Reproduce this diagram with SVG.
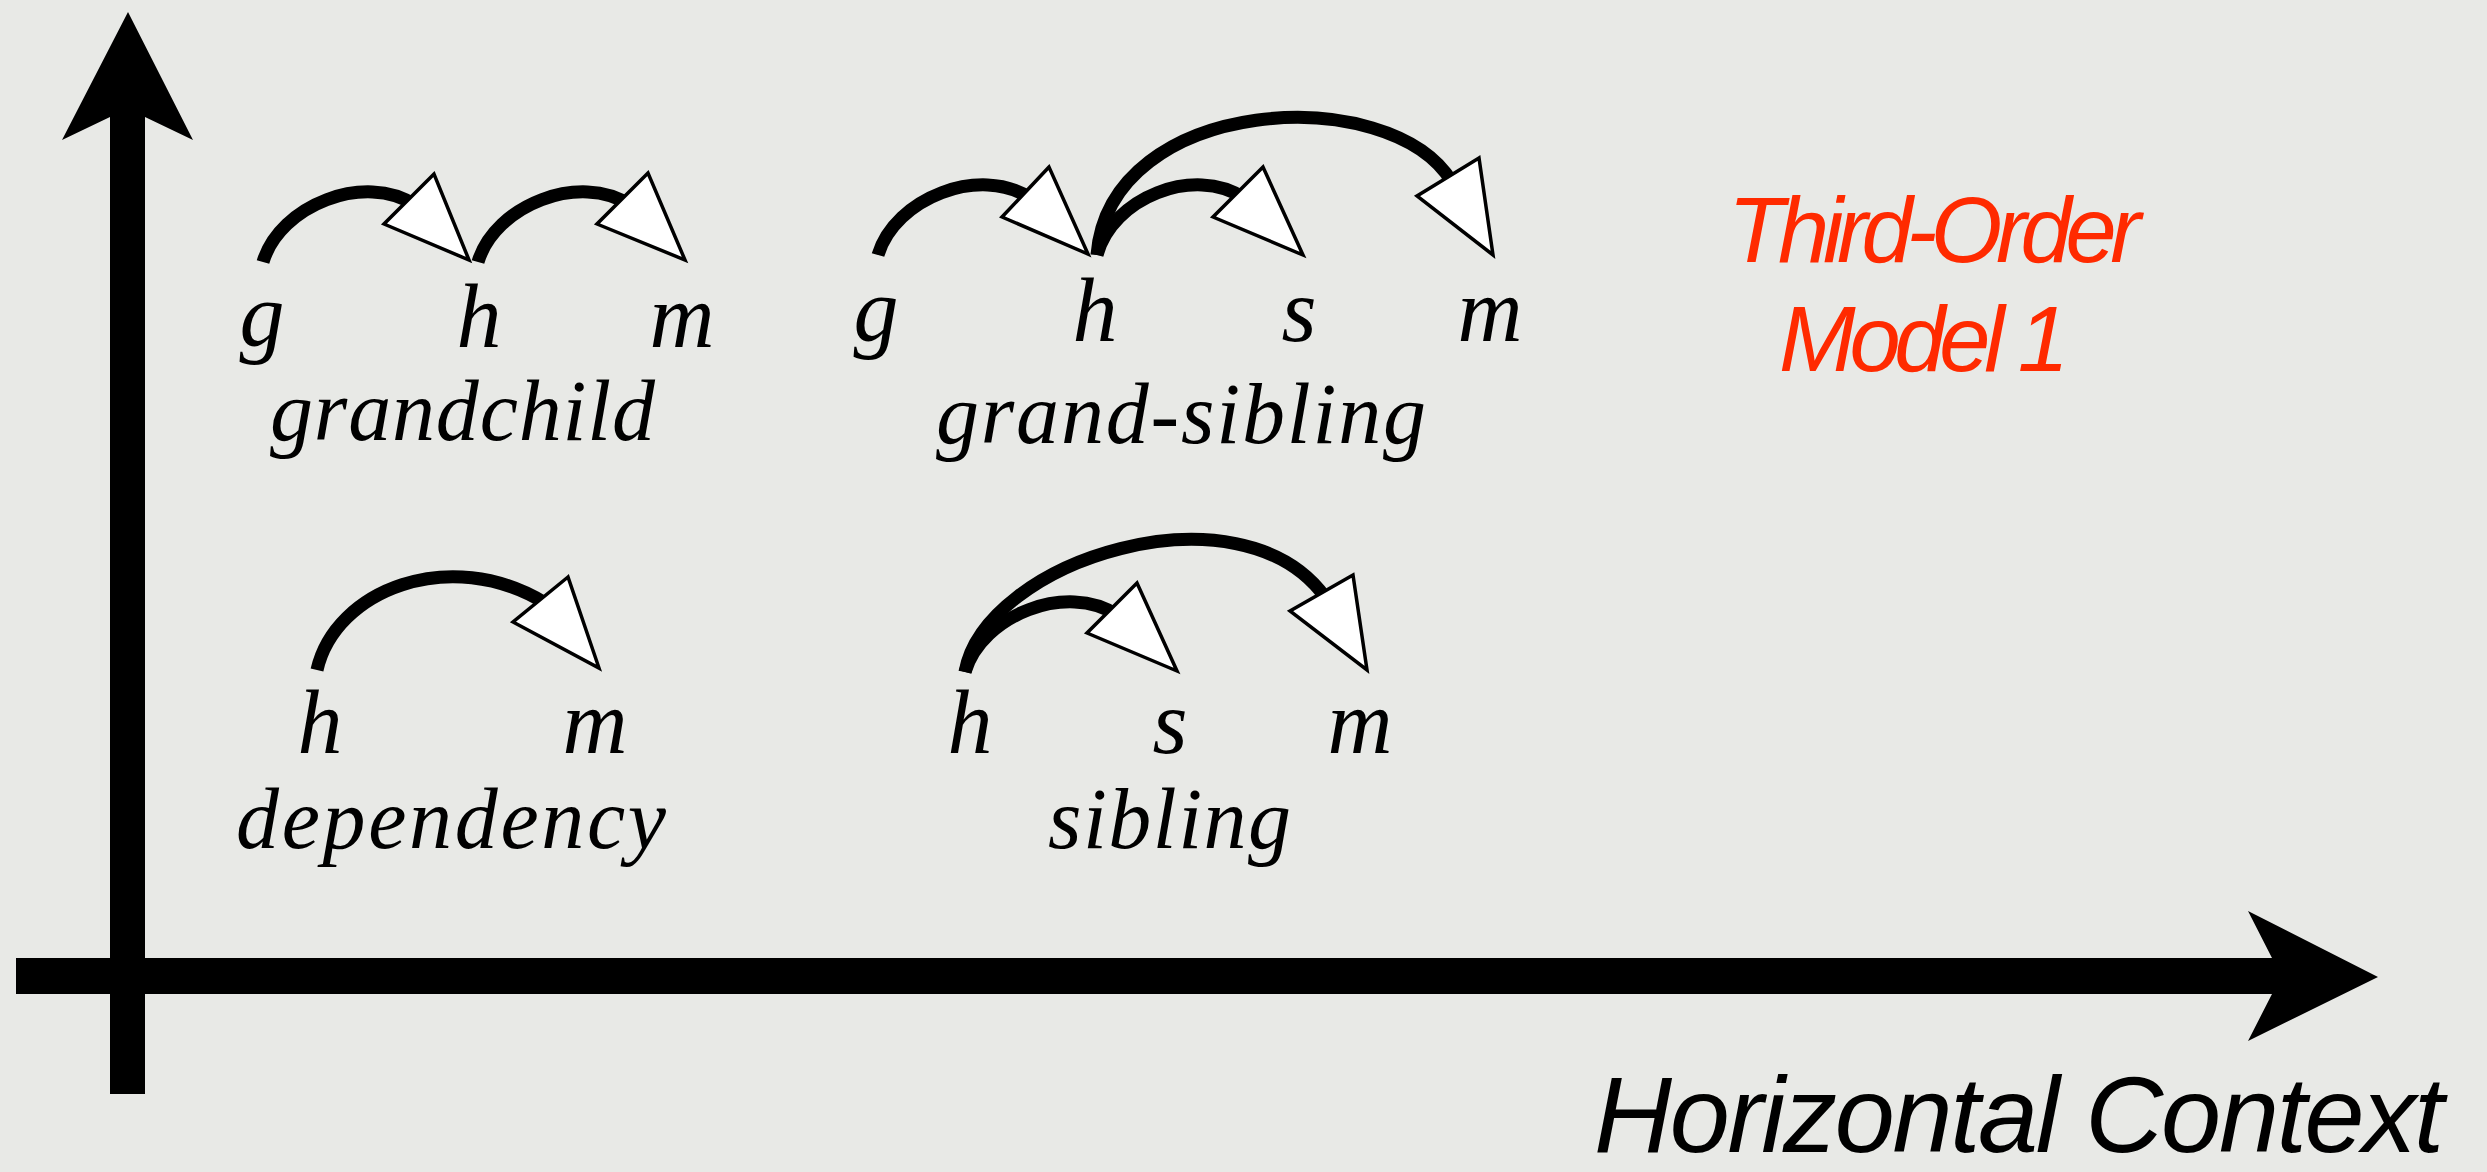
<svg xmlns="http://www.w3.org/2000/svg" width="2487" height="1172" viewBox="0 0 2487 1172">
  <rect x="0" y="0" width="2487" height="1172" fill="#e8e9e6"/>

  <g id="axes" fill="#000">
    <polygon points="128,12 193,140 145,117 145,1094 110,1094 110,117 62,140"/>
    <polygon points="16,958 2272,958 2248,911 2378,977 2248,1041 2272,994 16,994"/>
  </g>

  <g id="connectors">
    <g id="arcs" fill="none" stroke="#000" stroke-width="13">
      <path d="M263,262 C280,205 365,172 415,205"/>
      <path d="M478,262 C495,205 580,172 630,205"/>
      <path d="M878,255 C895,198 980,165 1030,198"/>
      <path d="M1097,255 C1110,95 1390,80 1452,182"/>
      <path d="M1097,255 C1112,198 1194,165 1244,198"/>
      <path d="M317,670 C335,590 450,545 545,603"/>
      <path d="M965,672 C985,560 1240,480 1325,597"/>
      <path d="M965,672 C982,615 1067,582 1117,615"/>
    </g>
    <g id="arrowheads" fill="#fff" stroke="#000" stroke-width="3.5">
      <polygon points="434,174 384,224 469,260"/>
      <polygon points="648,173 597,224 685,260"/>
      <polygon points="1049,167 1002,217 1088,254"/>
      <polygon points="1263,167 1213,217 1303,255"/>
      <polygon points="1479,158 1417,196 1493,255"/>
      <polygon points="568,577 513,622 599,668"/>
      <polygon points="1137,583 1087,633 1177,671"/>
      <polygon points="1353,575 1290,611 1367,670"/>
    </g>
  </g>

  <g id="nodes" font-size="90">
    <g id="gc-g"><text x="262" y="346" font-family="Liberation Serif" font-style="italic" text-anchor="middle">g</text></g>
    <g id="gc-h"><text x="479" y="347" font-family="Liberation Serif" font-style="italic" text-anchor="middle">h</text></g>
    <g id="gc-m"><text x="682" y="347" font-family="Liberation Serif" font-style="italic" text-anchor="middle">m</text></g>

    <g id="gs-g"><text x="876" y="341" font-family="Liberation Serif" font-style="italic" text-anchor="middle">g</text></g>
    <g id="gs-h"><text x="1095" y="341" font-family="Liberation Serif" font-style="italic" text-anchor="middle">h</text></g>
    <g id="gs-s"><text x="1299" y="341" font-family="Liberation Serif" font-style="italic" text-anchor="middle">s</text></g>
    <g id="gs-m"><text x="1490" y="341" font-family="Liberation Serif" font-style="italic" text-anchor="middle">m</text></g>

    <g id="dep-h"><text x="320" y="753" font-family="Liberation Serif" font-style="italic" text-anchor="middle">h</text></g>
    <g id="dep-m"><text x="595" y="753" font-family="Liberation Serif" font-style="italic" text-anchor="middle">m</text></g>

    <g id="sib-h"><text x="970" y="753" font-family="Liberation Serif" font-style="italic" text-anchor="middle">h</text></g>
    <g id="sib-s"><text x="1170" y="753" font-family="Liberation Serif" font-style="italic" text-anchor="middle">s</text></g>
    <g id="sib-m"><text x="1360" y="753" font-family="Liberation Serif" font-style="italic" text-anchor="middle">m</text></g>
  </g>

  <g id="labels" font-size="86">
    <text x="270" y="440" textLength="385" font-family="Liberation Serif" font-style="italic">grandchild</text>
    <text x="936" y="443" textLength="490" font-family="Liberation Serif" font-style="italic">grand-sibling</text>
    <text x="236" y="848" textLength="430" font-family="Liberation Serif" font-style="italic">dependency</text>
    <text x="1048" y="848" textLength="243" font-family="Liberation Serif" font-style="italic">sibling</text>
  </g>

  <g id="titles">
    <text x="1728" y="262" textLength="413" font-family="Liberation Sans" font-style="italic" font-size="92" fill="#ff2a00">Third-Order</text>
    <text x="1779" y="371" textLength="290" font-family="Liberation Sans" font-style="italic" font-size="92" fill="#ff2a00">Model 1</text>
    <text x="1594" y="1152" textLength="850" font-family="Liberation Sans" font-style="italic" font-size="108" fill="#000">Horizontal Context</text>
  </g>
</svg>
